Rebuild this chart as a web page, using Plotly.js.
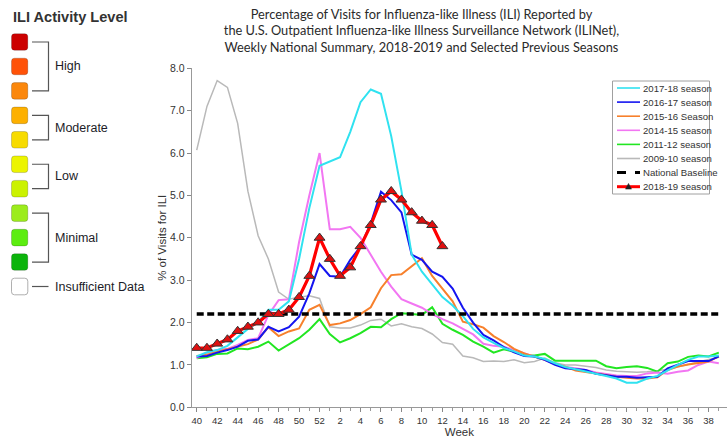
<!DOCTYPE html>
<html>
<head>
<meta charset="utf-8">
<script src="https://cdn.plot.ly/plotly-3.0.1.min.js"></script>
<style>html,body{margin:0;padding:0;background:#fff;}#chart{width:727px;height:438px;}</style>
</head>
<body>
<div id="chart"></div>
<script>
// ---- data ----
const weeks = [40,41,42,43,44,45,46,47,48,49,50,51,52,1,2,3,4,5,6,7,8,9,10,11,12,13,14,15,16,17,18,19,20,21,22,23,24,25,26,27,28,29,30,31,32,33,34,35,36,37,38,39];
const tickWeeks = [40,42,44,46,48,50,52,2,4,6,8,10,12,14,16,18,20,22,24,26,28,30,32,34,36,38];
const yTicks = [0,1,2,3,4,5,6,7,8];

const season2017_18 = [1.2,1.3,1.35,1.45,1.65,1.85,2.0,2.3,2.3,2.5,3.5,4.7,5.7, 5.8,5.9,6.5,7.2,7.5,7.4,6.4,5.1,3.6,3.2,2.9,2.6, 2.4,2.15,1.85,1.65,1.52,1.4,1.32, 1.22,1.2,1.14,1.04,0.95,0.9,0.85,0.8,0.74,0.68, 0.58,0.58,0.68,0.74,0.88,1.0,1.12,1.2,1.2,1.22];
const season2016_17 = [1.2,1.21,1.29,1.35,1.43,1.57,1.6,1.9,1.79,1.89,2.14,2.69,3.38, 3.1,3.08,3.48,3.79,4.34,5.09,4.89,4.6,3.6,3.48,3.2,3.08, 2.8,2.35,2.0,1.71,1.58,1.42,1.3, 1.21,1.2,1.12,1.0,0.92,0.9,0.88,0.79,0.76,0.72, 0.72,0.7,0.71,0.72,0.92,1.0,1.09,1.09,1.09,1.2];
const season2015_16 = [1.21,1.24,1.31,1.37,1.42,1.49,1.6,1.89,1.68,1.79,1.86,2.3,2.42, 1.94,1.98,2.06,2.2,2.36,2.81,3.12,3.14,3.32,3.52,3.1,2.8, 2.5,2.02,1.96,1.88,1.68,1.54,1.38, 1.27,1.2,1.12,1.02,0.96,0.87,0.84,0.8,0.76,0.72, 0.7,0.68,0.68,0.71,0.88,0.96,1.01,1.05,1.08,1.2];
const season2014_15 = [1.16,1.29,1.35,1.38,1.47,1.59,1.63,2.18,2.53,2.55,3.9,5.0,6.0, 4.2,4.2,4.26,4.0,3.6,3.2,2.85,2.55,2.45,2.35,2.2,2.08, 1.98,1.85,1.72,1.5,1.45,1.43,1.35, 1.27,1.2,1.12,1.02,0.95,0.92,0.88,0.82,0.78,0.75, 0.74,0.74,0.8,0.82,0.79,0.84,0.87,1.0,1.08,1.04];
const season2011_12 = [1.16,1.18,1.26,1.27,1.39,1.37,1.43,1.55,1.34,1.49,1.63,1.83,2.08, 1.73,1.53,1.63,1.75,1.9,1.89,2.08,2.22,2.2,2.18,2.36,1.97, 1.83,1.71,1.55,1.43,1.29,1.37,1.31, 1.23,1.22,1.26,1.1,1.1,1.1,1.1,1.1,0.97,0.92, 0.95,0.97,0.93,0.84,1.04,1.08,1.19,1.22,1.2,1.29];
const season2009_10 = [6.07,7.1,7.71,7.55,6.7,5.1,4.05,3.5,2.72,2.55,2.6,2.63,2.57, 1.9,1.87,1.87,1.94,2.05,2.08,1.92,1.97,1.9,1.86,1.73,1.53, 1.49,1.21,1.17,1.08,1.09,1.08,1.12, 1.05,1.08,1.16,1.05,1.0,1.0,0.97,0.94,0.88,0.85, 0.84,0.83,0.84,0.86,0.9,0.96,1.02,1.08,1.13,1.18];
const nationalBaseline = 2.2;
const season2018_19 = [1.4,1.4,1.5,1.6,1.8,1.9,2.0,2.2,2.2,2.3,2.6,3.1,4.0, 3.5,3.1,3.3,3.8,4.3,4.9,5.1,4.9,4.6,4.4,4.3,3.8];

const activityLevels = ['High','Moderate','Low','Minimal','Insufficient Data'];
const activityColors = ['#cc0000','#ff5208','#fb870c','#fdb000','#f7db00','#ecf400','#cbf200','#9cec1c','#5ced10','#0cb40c','#ffffff'];
const activityGroups = [[0,2],[3,4],[5,6],[7,9],[10,10]];

// ---- geometry helpers (page pixels -> paper fractions) ----
const W = 727, H = 438;
const fx = x => x / W;
const fy = y => 1 - y / H;
const FONT = 'Liberation Sans, Arial, sans-serif';

const idx = weeks.map((w, i) => i);
const series = [
  {name: '2009-10 season', y: season2009_10, color: '#b9b9b9', width: 1.5},
  {name: '2011-12 season', y: season2011_12, color: '#22e622', width: 2},
  {name: '2014-15 season', y: season2014_15, color: '#f276f2', width: 2},
  {name: '2015-16 Season', y: season2015_16, color: '#f7802c', width: 2},
  {name: '2016-17 season', y: season2016_17, color: '#1414f0', width: 2},
  {name: '2017-18 season', y: season2017_18, color: '#30e2f0', width: 2}
];

const traces = series.map(s => ({
  type: 'scatter', mode: 'lines', name: s.name,
  x: idx.slice(0, s.y.length), y: s.y,
  line: {color: s.color, width: s.width}, hoverinfo: 'x+y+name', showlegend: false
}));
traces.push({
  type: 'scatter', mode: 'lines', name: 'National Baseline',
  x: idx, y: weeks.map(() => nationalBaseline),
  line: {color: '#000', width: 3.4, dash: '7px,3.5px'}, showlegend: false
});
traces.push({
  type: 'scatter', mode: 'lines+markers', name: '2018-19 season',
  x: idx.slice(0, season2018_19.length), y: season2018_19,
  line: {color: '#ff0000', width: 3.2},
  marker: {symbol: 'triangle-up', size: 9.5, color: '#e01010', line: {color: '#333', width: 1}},
  showlegend: false
});

// ---- manual legend (box with line samples) ----
const legendOrder = [
  {name: '2017-18 season', color: '#30e2f0'},
  {name: '2016-17 season', color: '#1414f0'},
  {name: '2015-16 Season', color: '#f7802c'},
  {name: '2014-15 season', color: '#f276f2'},
  {name: '2011-12 season', color: '#22e622'},
  {name: '2009-10 season', color: '#b9b9b9'},
  {name: 'National Baseline', color: '#000', dash: 'dash', width: 3},
  {name: '2018-19 season', color: '#ff0000', width: 3, marker: true}
];
const shapes = [];
const annotations = [];
shapes.push({type: 'rect', xref: 'paper', yref: 'paper', x0: fx(612.5), x1: fx(709.5), y0: fy(81), y1: fy(194), line: {color: '#a0a0a0', width: 1}, fillcolor: '#fff', layer: 'above'});
legendOrder.forEach((it, k) => {
  const yc = 88 + k * 14.1;
  shapes.push({type: 'line', xref: 'paper', yref: 'paper', x0: fx(617), x1: fx(640), y0: fy(yc), y1: fy(yc), line: {color: it.color, width: it.width || 1.6, dash: it.dash || 'solid'}, layer: 'above'});
  if (it.marker) {
    const cx = 628.5, s = 3;
    shapes.push({type: 'path', xref: 'paper', yref: 'paper', layer: 'above',
      path: `M ${fx(cx - s)} ${fy(yc + s * 0.8)} L ${fx(cx + s)} ${fy(yc + s * 0.8)} L ${fx(cx)} ${fy(yc - s * 1.1)} Z`,
      fillcolor: '#222', line: {color: '#222', width: 0.5}});
  }
  annotations.push({xref: 'paper', yref: 'paper', x: fx(641), y: fy(yc), xanchor: 'left', yanchor: 'middle', showarrow: false, text: it.name, font: {family: FONT, size: 9.6, color: '#333'}});
});

// ---- activity-level key on the left ----
const sqY = activityColors.map((c, k) => 42 + k * 24.45);
function roundRect(x0, y0, x1, y1, r) {
  const P = (x, y) => `${fx(x)},${fy(y)}`;
  return `M ${P(x0 + r, y0)} L ${P(x1 - r, y0)} Q ${P(x1, y0)} ${P(x1, y0 + r)} L ${P(x1, y1 - r)} Q ${P(x1, y1)} ${P(x1 - r, y1)} L ${P(x0 + r, y1)} Q ${P(x0, y1)} ${P(x0, y1 - r)} L ${P(x0, y0 + r)} Q ${P(x0, y0)} ${P(x0 + r, y0)} Z`;
}
activityColors.forEach((c, k) => {
  shapes.push({type: 'path', xref: 'paper', yref: 'paper', path: roundRect(11.5, sqY[k] - 8.3, 27.8, sqY[k] + 8.3, 3),
    fillcolor: c, line: {color: k === activityColors.length - 1 ? '#b0b0b0' : 'rgba(0,0,0,0.18)', width: 1}});
});
activityGroups.forEach((g, k) => {
  const yTop = sqY[g[0]], yBot = sqY[g[1]];
  const lc = {color: '#555', width: 1.2};
  if (g[0] === g[1]) {
    shapes.push({type: 'line', xref: 'paper', yref: 'paper', x0: fx(32), x1: fx(48.5), y0: fy(yTop), y1: fy(yTop), line: lc});
  } else {
    shapes.push({type: 'path', xref: 'paper', yref: 'paper', line: lc,
      path: `M ${fx(32)},${fy(yTop)} L ${fx(48.5)},${fy(yTop)} L ${fx(48.5)},${fy(yBot)} L ${fx(32)},${fy(yBot)}`});
  }
  annotations.push({xref: 'paper', yref: 'paper', x: fx(52.5), y: fy((yTop + yBot) / 2), xanchor: 'left', yanchor: 'middle', showarrow: false,
    text: activityLevels[k], font: {family: FONT, size: 12.5, color: '#1c1c28'}});
});
annotations.push({xref: 'paper', yref: 'paper', x: fx(10.5), y: fy(17), xanchor: 'left', yanchor: 'middle', showarrow: false,
  text: '<b>ILI Activity Level</b>', font: {family: FONT, size: 14.6, color: '#333'}});

// ---- layout ----
const tickIdx = tickWeeks.map(w => weeks.indexOf(w));
const layout = {
  width: W, height: H,
  margin: {l: 0, r: 0, t: 0, b: 0},
  paper_bgcolor: '#fff', plot_bgcolor: '#fff',
  showlegend: false,
  title: {
    text: 'Percentage of Visits for Influenza-like Illness (ILI) Reported by<br>the U.S. Outpatient Influenza-like Illness Surveillance Network (ILINet),<br>Weekly National Summary, 2018-2019 and Selected Previous Seasons',
    x: fx(421.5), xanchor: 'center', xref: 'container', y: 1 - 18.5 / H, yanchor: 'top', yref: 'container',
    font: {family: 'Lato, sans-serif', size: 12.8, color: '#2a2a2a'}
  },
  xaxis: {
    domain: [fx(191.7), 1],
    range: [-0.49, 51.8],
    tickmode: 'array', tickvals: tickIdx, ticktext: tickWeeks.map(String),
    ticks: 'outside', ticklen: 4, tickcolor: '#888', tickwidth: 1,
    minor: {tickmode: 'array', tickvals: idx, ticks: 'outside', ticklen: 3, tickcolor: '#999', showgrid: false},
    showline: true, linecolor: '#999', linewidth: 1,
    showgrid: false, zeroline: false,
    tickfont: {family: FONT, size: 9.5, color: '#333'},
    title: {text: 'Week', font: {family: FONT, size: 11.5, color: '#333'}}
  },
  yaxis: {
    domain: [fy(407.3), fy(68.3)],
    range: [0, 8],
    tickmode: 'array', tickvals: yTicks, tickformat: '.1f',
    ticks: 'outside', ticklen: 4, tickcolor: '#888',
    showline: true, linecolor: '#999', linewidth: 1,
    showgrid: false, zeroline: false,
    tickfont: {family: FONT, size: 10.5, color: '#333'},
    title: {text: '% of Visits for ILI', font: {family: FONT, size: 11.5, color: '#333'}, standoff: 0}
  },
  shapes: shapes,
  annotations: annotations
};

Plotly.newPlot('chart', traces, layout, {displayModeBar: false, staticPlot: true});
</script>
</body>
</html>
